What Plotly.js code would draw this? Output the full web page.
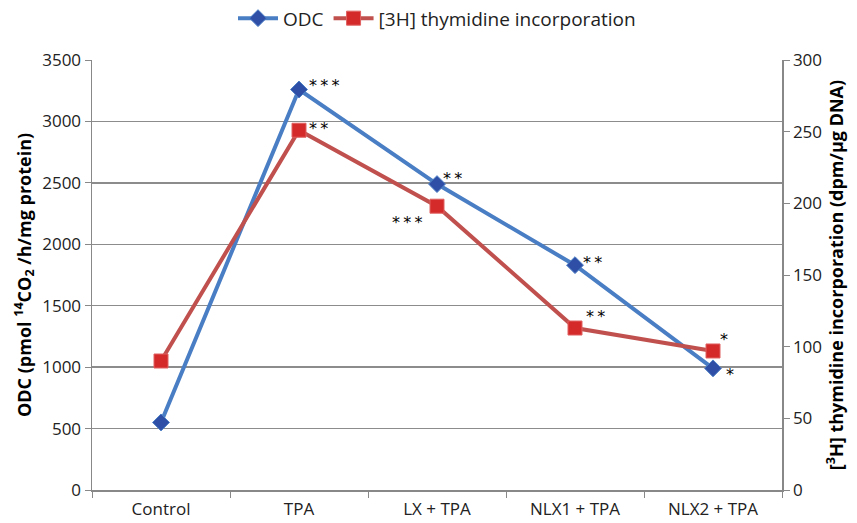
<!DOCTYPE html>
<html><head><meta charset="utf-8">
<script src="https://cdn.plot.ly/plotly-3.0.1.min.js"></script>
<style>html,body{margin:0;padding:0;background:#fff}#chart{width:857px;height:523px}</style>
</head><body><div id="chart"></div>
<script>
const categories = ['Control', 'TPA', 'LX + TPA', 'NLX1 + TPA', 'NLX2 + TPA'];
const odcValues = [550, 3260, 2490, 1830, 990];
const thymValues = [90, 251, 198, 113, 97];
const odcStars = ['', '***', '**', '**', '*'];
const thymStars = ['', '**', '***', '**', '*'];

const font = '"Open Sans", Lato, sans-serif';
const starFont = '"DejaVu Sans", sans-serif';
const traces = [
  {x: categories, y: odcValues, name: 'ODC', type: 'scatter', mode: 'lines+markers',
   line: {color: '#4A7EC4', width: 4}, marker: {symbol: 'diamond', size: 13, color: '#2F4FA6', line: {color: '#4A7EC4', width: 1}}},
  {x: categories, y: thymValues, name: '[3H] thymidine incorporation', type: 'scatter', mode: 'lines+markers', yaxis: 'y2',
   line: {color: '#C0504D', width: 4}, marker: {symbol: 'square', size: 14, color: '#D42A2A', line: {color: '#E06060', width: 1}}}
];

const annotations = [];
const odcOff = [null, [8, -4], [4, -6], [6, -3], [11, 6]];
const thymOff = [null, [8, -2], [-47, 16], [9, -12], [5, -11]];
const spaced = s => s.split('').join('\u2009');
categories.forEach((c, i) => {
  if (odcStars[i]) annotations.push({x: c, y: odcValues[i], yref: 'y', text: spaced(odcStars[i]), showarrow: false,
    xanchor: 'left', yanchor: 'middle', xshift: odcOff[i][0], yshift: -odcOff[i][1], font: {family: starFont, size: 16, color: '#000'}});
  if (thymStars[i]) annotations.push({x: c, y: thymValues[i], yref: 'y2', text: spaced(thymStars[i]), showarrow: false,
    xanchor: 'left', yanchor: 'middle', xshift: thymOff[i][0], yshift: -thymOff[i][1], font: {family: starFont, size: 16, color: '#000'}});
});

const layout = {
  width: 857, height: 523,
  margin: {l: 92, r: 75, t: 60, b: 33, autoexpand: false},
  paper_bgcolor: '#fff', plot_bgcolor: '#fff',
  font: {family: font, size: 16, color: '#222'},
  showlegend: true,
  legend: {orientation: 'h', x: 0.5, xanchor: 'center', yref: 'container', y: 0.965, yanchor: 'middle',
    font: {family: font, size: 19, color: '#222'}, itemwidth: 40},
  xaxis: {type: 'category', range: [-0.5, 4.5], showline: true, linecolor: '#888', linewidth: 1.5, ticks: 'outside', tickson: 'boundaries',
    ticklen: 6, tickcolor: '#888', showgrid: false, zeroline: false, tickfont: {family: font, size: 17}, ticklabelstandoff: 3},
  yaxis: {range: [0, 3500], dtick: 500, showline: true, linecolor: '#888', linewidth: 1.5, ticks: 'outside', ticklen: 6,
    tickcolor: '#888', gridcolor: '#8c8c8c', gridwidth: 1.5, zeroline: false, tickfont: {family: font, size: 17},
    title: {text: '<b>ODC (pmol <sup>14</sup>CO<sub>2</sub> /h/mg protein)</b>', font: {family: font, size: 18, color: '#000'}, standoff: 6}},
  yaxis2: {range: [0, 300], dtick: 50, overlaying: 'y', side: 'right', showline: true, linecolor: '#888', linewidth: 1.5,
    ticks: 'outside', ticklen: 6, tickcolor: '#888', showgrid: false, zeroline: false, tickfont: {family: font, size: 17},
    title: {text: '<b>[<sup>3</sup>H] thymidine incorporation (dpm/µg DNA)</b>', font: {family: font, size: 18, color: '#000'}, standoff: 8}},
  annotations: annotations
};
Plotly.newPlot('chart', traces, layout, {displayModeBar: false, staticPlot: true});
</script></body></html>
